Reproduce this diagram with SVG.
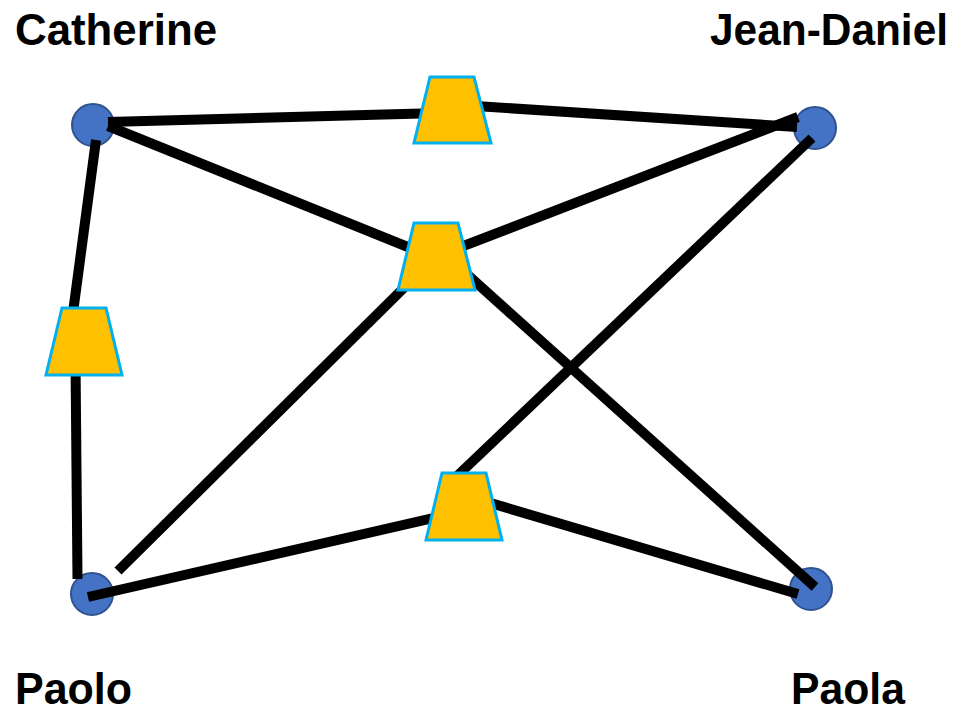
<svg xmlns="http://www.w3.org/2000/svg" width="958" height="712" viewBox="0 0 958 712">
<style>
.lbl{font-family:"Liberation Sans",Arial,sans-serif;font-weight:bold;font-size:44px;fill:#000}
.person{fill:#4472C4;stroke:#2F528F;stroke-width:2}
.edge{stroke:#000;stroke-width:10;stroke-linecap:butt;fill:none}
.hub{fill:#FFC000;stroke:#00B0F0;stroke-width:3;stroke-linejoin:miter}
</style>
<rect width="958" height="712" fill="#fff"/>
<g id="person-catherine">
<circle class="person" cx="93" cy="125" r="21"/>
<text class="lbl" x="15" y="45" textLength="202" lengthAdjust="spacingAndGlyphs">Catherine</text>
</g>
<g id="person-jean-daniel">
<circle class="person" cx="815" cy="128" r="21"/>
<text class="lbl" x="710" y="45" textLength="238" lengthAdjust="spacingAndGlyphs">Jean-Daniel</text>
</g>
<g id="person-paolo">
<circle class="person" cx="92" cy="594" r="21"/>
<text class="lbl" x="15" y="704" textLength="117" lengthAdjust="spacingAndGlyphs">Paolo</text>
</g>
<g id="person-paola">
<circle class="person" cx="811" cy="589" r="21"/>
<text class="lbl" x="791" y="704" textLength="114" lengthAdjust="spacingAndGlyphs">Paola</text>
</g>
<g id="connectors">
<line class="edge" x1="108" y1="122" x2="440" y2="113"/>
<line class="edge" x1="460" y1="105" x2="797" y2="127"/>
<line class="edge" x1="108" y1="126" x2="430" y2="256"/>
<line class="edge" x1="440" y1="255" x2="798" y2="117"/>
<line class="edge" x1="430" y1="262" x2="118" y2="571"/>
<line class="edge" x1="440" y1="250" x2="815" y2="587"/>
<line class="edge" x1="812" y1="138" x2="455" y2="478"/>
<line class="edge" x1="88" y1="597" x2="460" y2="512"/>
<line class="edge" x1="470" y1="497" x2="798" y2="594"/>
<line class="edge" x1="96" y1="140" x2="72" y2="320"/>
<line class="edge" x1="75.5" y1="360" x2="77.5" y2="579"/>
</g>
<g id="hub-top"><polygon class="hub" points="430,77 474,77 491,143 414,143"/></g>
<g id="hub-middle"><polygon class="hub" points="414,223 458,223 475,290 398,290"/></g>
<g id="hub-left"><polygon class="hub" points="62,308 106,308 122,375 46,375"/></g>
<g id="hub-bottom"><polygon class="hub" points="442,473 486,473 502,540 426,540"/></g>
</svg>
